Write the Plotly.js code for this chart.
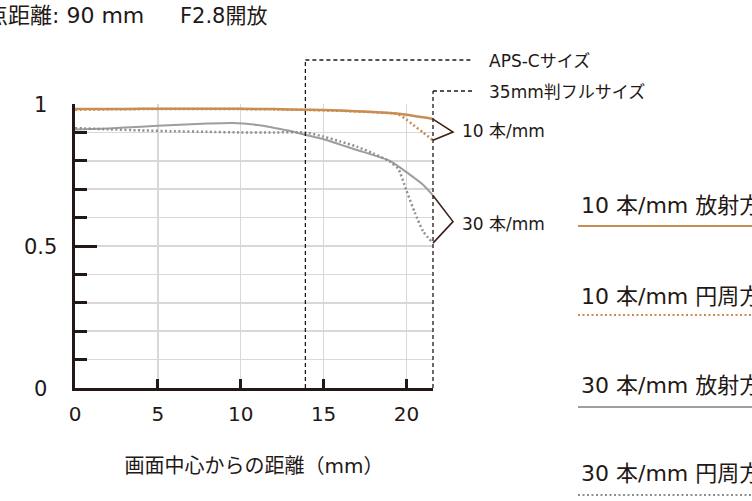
<!DOCTYPE html>
<html>
<head>
<meta charset="utf-8">
<script src="https://cdn.plot.ly/plotly-3.0.1.min.js"></script>
<style>html,body{margin:0;padding:0;background:#fff;overflow:hidden}#chart{width:752px;height:501px}</style>
</head>
<body>
<div id="chart"></div>
<script>
// ---- data ----
const x10R = [0, 2, 4, 6, 8, 10, 12, 14, 16, 18, 19, 20, 21, 21.6];
const y10R = [0.982, 0.982, 0.983, 0.983, 0.983, 0.983, 0.982, 0.980, 0.977, 0.972, 0.968, 0.962, 0.953, 0.947];
const x10T = [0, 2, 4, 6, 8, 10, 12, 14, 16, 18, 19, 19.5, 20, 20.5, 21, 21.6];
const y10T = [0.980, 0.981, 0.982, 0.982, 0.982, 0.982, 0.981, 0.979, 0.976, 0.971, 0.968, 0.964, 0.945, 0.922, 0.900, 0.872];
const x30R = [0, 2, 4, 6, 8, 9.5, 11, 12, 13, 14, 15, 16, 17, 18, 19, 19.6, 20, 21, 21.6];
const y30R = [0.910, 0.914, 0.920, 0.926, 0.931, 0.933, 0.926, 0.916, 0.905, 0.890, 0.876, 0.857, 0.838, 0.820, 0.800, 0.777, 0.760, 0.716, 0.678];
const x30T = [0, 2, 4, 6, 8, 10, 12, 14, 15, 16, 17, 18, 19, 19.5, 20, 20.5, 21, 21.6];
const y30T = [0.915, 0.911, 0.907, 0.904, 0.902, 0.900, 0.900, 0.899, 0.885, 0.868, 0.850, 0.826, 0.797, 0.772, 0.695, 0.618, 0.552, 0.510];

const xTicks = [0, 5, 10, 15, 20];
const yLabelVals = [0, 0.5, 1];
const yLabelText = ['0', '0.5', '1'];
const apsC = 13.9;
const fullFrame = 21.6;
const seriesNames = ['10 本/mm 放射方向', '10 本/mm 円周方向', '30 本/mm 放射方向', '30 本/mm 円周方向'];
const groupLabels = ['10 本/mm', '30 本/mm'];
const titleLeft = '焦点距離: 90 mm';
const titleRight = 'F2.8開放';
const xTitle = '画面中心からの距離（mm）';
const apsLabel = 'APS-Cサイズ';
const fullLabel = '35mm判フルサイズ';

// ---- style ----
const ORANGE = '#c98d52';
const GRAY = '#9e9e9e';
const GRAYDOT = '#8f8f8f';
const DARK = '#231815';
const GRID = '#d8d8d8';
const FONT = 'DejaVu Sans, Noto Sans CJK JP, sans-serif';

const W = 752, H = 501;
const M = {l: 75, r: 319, t: 104, b: 113};
const PW = W - M.l - M.r, PH = H - M.t - M.b;
const xr = [0, 21.6], yr = [0, 1];
// helpers: data/pixel -> paper
const xp = v => (v - xr[0]) / (xr[1] - xr[0]);
const yp = v => (v - yr[0]) / (yr[1] - yr[0]);
const pxX = px => (px - M.l) / PW;
const pxY = py => (H - M.b - py) / PH;
const last = a => a[a.length - 1];

const DOT = '2px,2.5px';
const traces = [
  {x: x10R, y: y10R, mode: 'lines', line: {color: ORANGE, width: 2.5, shape: 'spline', smoothing: 0.6}},
  {x: x10T, y: y10T, mode: 'lines', line: {color: ORANGE, width: 2.5, dash: DOT, shape: 'spline', smoothing: 0.6}},
  {x: x30R, y: y30R, mode: 'lines', line: {color: GRAY, width: 2, shape: 'spline', smoothing: 0.6}},
  {x: x30T, y: y30T, mode: 'lines', line: {color: GRAYDOT, width: 2.5, dash: DOT, shape: 'spline', smoothing: 0.6}}
];

const shapes = [];
const dashLine = {color: DARK, width: 1.3, dash: '4px,3px'};
// APS-C frame
shapes.push({type: 'line', xref: 'paper', yref: 'paper', x0: xp(apsC), x1: xp(apsC), y0: 0, y1: pxY(60), line: dashLine});
shapes.push({type: 'line', xref: 'paper', yref: 'paper', x0: xp(apsC), x1: pxX(473), y0: pxY(60), y1: pxY(60), line: dashLine});
// full frame
shapes.push({type: 'line', xref: 'paper', yref: 'paper', x0: xp(fullFrame), x1: xp(fullFrame), y0: 0, y1: pxY(91), line: dashLine});
shapes.push({type: 'line', xref: 'paper', yref: 'paper', x0: xp(fullFrame), x1: pxX(473), y0: pxY(91), y1: pxY(91), line: dashLine});
// chevrons
function chevron(yTop, yBot, xEnd) {
  const tipX = pxX(453);
  const tipY = (yp(yTop) + yp(yBot)) / 2 - 0.008;
  return {type: 'path', xref: 'paper', yref: 'paper',
    path: `M ${xp(xEnd)} ${yp(yTop)} L ${tipX} ${tipY} L ${xp(xEnd)} ${yp(yBot)}`,
    line: {color: '#3b2318', width: 1.6}};
}
shapes.push(chevron(last(y10R), last(y10T), last(x10R)));
shapes.push(chevron(last(y30R), last(y30T), last(x30R)));
// legend lines
const legendStyles = [
  {color: ORANGE, width: 2},
  {color: ORANGE, width: 2, dash: DOT},
  {color: GRAY, width: 2},
  {color: GRAYDOT, width: 2, dash: DOT}
];
const legendLineY = [226, 315, 407, 495];
const legendTextY = [205, 296, 385, 473];
legendStyles.forEach((st, i) => {
  shapes.push({type: 'line', xref: 'paper', yref: 'paper', x0: pxX(578), x1: pxX(770),
    y0: pxY(legendLineY[i]), y1: pxY(legendLineY[i]), line: st});
});

const annotations = [];
yLabelVals.forEach((v, i) => {
  annotations.push({xref: 'paper', yref: 'y', x: pxX(40), y: v, yshift: -1, text: yLabelText[i], showarrow: false,
    xanchor: 'center', yanchor: 'middle', font: {family: FONT, size: 21, color: DARK}});
});
annotations.push({xref: 'paper', yref: 'paper', x: pxX(146), y: pxY(16), text: titleLeft, showarrow: false,
  xanchor: 'right', yanchor: 'middle', font: {family: FONT, size: 22, color: DARK}});
annotations.push({xref: 'paper', yref: 'paper', x: pxX(178), y: pxY(16), text: titleRight, showarrow: false,
  xanchor: 'left', yanchor: 'middle', font: {family: FONT, size: 21, color: DARK}});
annotations.push({xref: 'paper', yref: 'paper', x: pxX(487), y: pxY(61), text: apsLabel, showarrow: false,
  xanchor: 'left', yanchor: 'middle', font: {family: FONT, size: 17, color: DARK}});
annotations.push({xref: 'paper', yref: 'paper', x: pxX(487), y: pxY(92), text: fullLabel, showarrow: false,
  xanchor: 'left', yanchor: 'middle', font: {family: FONT, size: 17, color: DARK}});
annotations.push({xref: 'paper', yref: 'paper', x: pxX(460), y: pxY(131), text: groupLabels[0], showarrow: false,
  xanchor: 'left', yanchor: 'middle', font: {family: FONT, size: 17, color: DARK}});
annotations.push({xref: 'paper', yref: 'paper', x: pxX(460), y: pxY(224), text: groupLabels[1], showarrow: false,
  xanchor: 'left', yanchor: 'middle', font: {family: FONT, size: 17, color: DARK}});
seriesNames.forEach((t, i) => {
  annotations.push({xref: 'paper', yref: 'paper', x: pxX(579), y: pxY(legendTextY[i]), text: t, showarrow: false,
    xanchor: 'left', yanchor: 'middle', font: {family: FONT, size: 22, color: DARK}});
});

const layout = {
  width: W, height: H,
  margin: M,
  paper_bgcolor: '#fff', plot_bgcolor: '#fff',
  showlegend: false,
  font: {family: FONT, color: DARK},
  xaxis: {
    range: xr, tickmode: 'array', tickvals: xTicks, ticktext: xTicks.map(String),
    ticks: 'inside', ticklen: 9, tickwidth: 3, tickcolor: DARK,
    showline: true, linewidth: 3, linecolor: DARK,
    showgrid: true, gridcolor: GRID, gridwidth: 1.5, zeroline: false,
    tickfont: {family: FONT, size: 20, color: DARK}, ticklabelstandoff: 6,
    title: {text: xTitle, font: {family: FONT, size: 20, color: DARK}, standoff: 34},
    fixedrange: true
  },
  yaxis: {
    range: yr, tickmode: 'linear', tick0: 0, dtick: 0.5,
    ticks: 'inside', ticklen: 22, tickwidth: 3, tickcolor: DARK,
    showticklabels: false,
    showline: true, linewidth: 3, linecolor: DARK,
    showgrid: true, gridcolor: GRID, gridwidth: 1.5, zeroline: false,
    minor: {tickmode: 'linear', tick0: 0, dtick: 0.1, ticks: 'inside', ticklen: 12, tickwidth: 3, tickcolor: DARK,
      showgrid: true, gridcolor: GRID, gridwidth: 1.5},
    fixedrange: true
  },
  shapes: shapes,
  annotations: annotations
};

Plotly.newPlot('chart', traces, layout, {displayModeBar: false, staticPlot: true});
</script>
</body>
</html>
